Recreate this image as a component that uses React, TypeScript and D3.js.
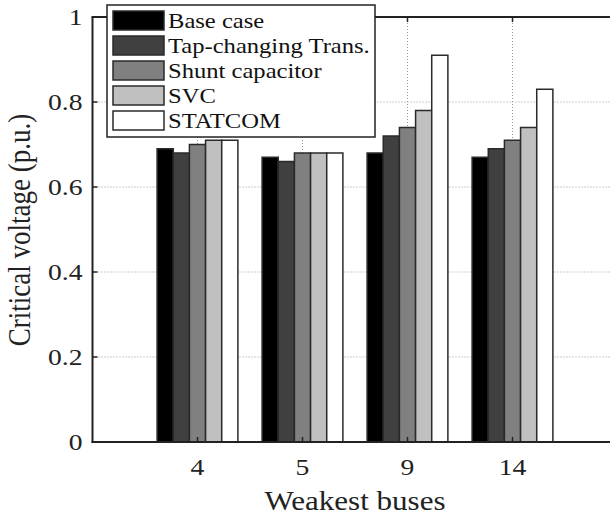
import React, { useEffect, useRef } from 'react';
import * as d3 from 'd3';

const buses = ['4', '5', '9', '14'];
const seriesNames = ['Base case', 'Tap-changing Trans.', 'Shunt capacitor', 'SVC', 'STATCOM'];
const baseCase = [0.69, 0.67, 0.68, 0.67];
const tapChanging = [0.68, 0.66, 0.72, 0.69];
const shuntCapacitor = [0.7, 0.68, 0.74, 0.71];
const svc = [0.71, 0.68, 0.78, 0.74];
const statcom = [0.71, 0.68, 0.91, 0.83];
const seriesColors = ['#000000', '#404040', '#808080', '#c0c0c0', '#ffffff'];
const yTicks = [0, 0.2, 0.4, 0.6, 0.8, 1];

const W = 610;
const H = 515;
const FONT = "'Liberation Serif', 'DejaVu Serif', 'Times New Roman', Times, serif";
// the source picture is stretched sideways a bit, so text gets widened too
const SX = 1.2;

const App = () => {
  const svgRef = useRef<SVGSVGElement>(null);

  useEffect(() => {
    const svg = d3.select(svgRef.current);
    svg.selectAll('*').remove();

    const series = [baseCase, tapChanging, shuntCapacitor, svc, statcom];
    const left = 92.5;
    const top = 17;
    const bottom = 442;
    const x = d3.scaleLinear().domain([0, 5]).range([left, 617.5]);
    const y = d3.scaleLinear().domain([0, 1]).range([bottom, top]);
    const pos = buses.map((_, i) => i + 1);
    // matlab grouped bar width
    const groupW = series.length / (series.length + 1.5);
    const barW = groupW / series.length;

    // grid
    const grid = svg
      .append('g')
      .attr('stroke', '#9a9a9a')
      .attr('stroke-width', 1)
      .attr('stroke-dasharray', '1,2');
    grid
      .selectAll('.gy')
      .data(yTicks.filter((t) => t > 0 && t < 1))
      .join('line')
      .attr('class', 'gy')
      .attr('x1', left)
      .attr('x2', W)
      .attr('y1', (d) => y(d))
      .attr('y2', (d) => y(d));
    grid
      .selectAll('.gx')
      .data(pos)
      .join('line')
      .attr('class', 'gx')
      .attr('x1', (d) => x(d))
      .attr('x2', (d) => x(d))
      .attr('y1', top)
      .attr('y2', bottom);

    // bars
    series.forEach((vals, j) => {
      svg
        .append('g')
        .selectAll('rect')
        .data(vals)
        .join('rect')
        .attr('x', (d, i) => x(pos[i] - groupW / 2 + j * barW))
        .attr('width', x(barW) - x(0))
        .attr('y', (d) => y(d))
        .attr('height', (d) => y(0) - y(d))
        .attr('fill', seriesColors[j])
        .attr('stroke', '#2a2a2a')
        .attr('stroke-width', 1.5);
    });

    // axes box
    const ax = svg.append('g').attr('stroke', '#222').attr('stroke-width', 2);
    ax.append('line').attr('x1', left).attr('x2', left).attr('y1', top).attr('y2', bottom + 1);
    ax.append('line').attr('x1', left - 1).attr('x2', W).attr('y1', bottom).attr('y2', bottom);
    ax.append('line').attr('x1', left - 1).attr('x2', W).attr('y1', top).attr('y2', top);

    // ticks
    const tk = svg.append('g').attr('stroke', '#222').attr('stroke-width', 1.5);
    tk.selectAll('.ty')
      .data(yTicks)
      .join('line')
      .attr('class', 'ty')
      .attr('x1', left)
      .attr('x2', left + 5)
      .attr('y1', (d) => y(d))
      .attr('y2', (d) => y(d));
    tk.selectAll('.tb')
      .data(pos)
      .join('line')
      .attr('class', 'tb')
      .attr('x1', (d) => x(d))
      .attr('x2', (d) => x(d))
      .attr('y1', bottom)
      .attr('y2', bottom - 5);
    tk.selectAll('.tt')
      .data(pos)
      .join('line')
      .attr('class', 'tt')
      .attr('x1', (d) => x(d))
      .attr('x2', (d) => x(d))
      .attr('y1', top)
      .attr('y2', top + 5);

    // tick labels
    const fmt = d3.format('~g');
    svg
      .selectAll('.yl')
      .data(yTicks)
      .join('text')
      .attr('class', 'yl')
      .attr('transform', (d) => `translate(${left - 10},${y(d) + 8}) scale(${SX},1)`)
      .attr('text-anchor', 'end')
      .style('font-family', FONT)
      .attr('font-size', 23)
      .attr('fill', '#222')
      .text((d) => fmt(d));
    svg
      .selectAll('.xl')
      .data(pos)
      .join('text')
      .attr('class', 'xl')
      .attr('transform', (d) => `translate(${x(d)},475) scale(${SX},1)`)
      .attr('text-anchor', 'middle')
      .style('font-family', FONT)
      .attr('font-size', 23)
      .attr('fill', '#222')
      .text((d, i) => buses[i]);

    // axis titles
    svg
      .append('text')
      .attr('transform', `translate(${(left + 617.5) / 2},510) scale(1.15,1)`)
      .attr('text-anchor', 'middle')
      .style('font-family', FONT)
      .attr('font-size', 27)
      .attr('fill', '#222')
      .text('Weakest buses');
    svg
      .append('text')
      .attr('transform', 'translate(30,230) rotate(-90) scale(1,1.15)')
      .attr('text-anchor', 'middle')
      .style('font-family', FONT)
      .attr('font-size', 27)
      .attr('fill', '#222')
      .text('Critical voltage (p.u.)');

    // legend
    const lg = svg.append('g');
    lg.append('rect')
      .attr('x', 107)
      .attr('y', 5)
      .attr('width', 268)
      .attr('height', 132)
      .attr('fill', '#fff')
      .attr('stroke', '#222')
      .attr('stroke-width', 1.5);
    const rows = lg
      .selectAll('.row')
      .data(seriesNames)
      .join('g')
      .attr('class', 'row')
      .attr('transform', (d, i) => `translate(0,${i * 25})`);
    rows
      .append('rect')
      .attr('x', 113)
      .attr('y', 11)
      .attr('width', 51)
      .attr('height', 19)
      .attr('fill', (d, i) => seriesColors[i])
      .attr('stroke', '#2a2a2a')
      .attr('stroke-width', 1.5);
    rows
      .append('text')
      .attr('transform', `translate(168,28) scale(${SX},1)`)
      .style('font-family', FONT)
      .attr('font-size', 20.5)
      .attr('fill', '#111')
      .text((d) => d);
  }, []);

  return (
    <svg
      ref={svgRef}
      width={W}
      height={H}
      style={{ position: 'absolute', left: 0, top: 0, background: '#fff' }}
    />
  );
};

export default App;
